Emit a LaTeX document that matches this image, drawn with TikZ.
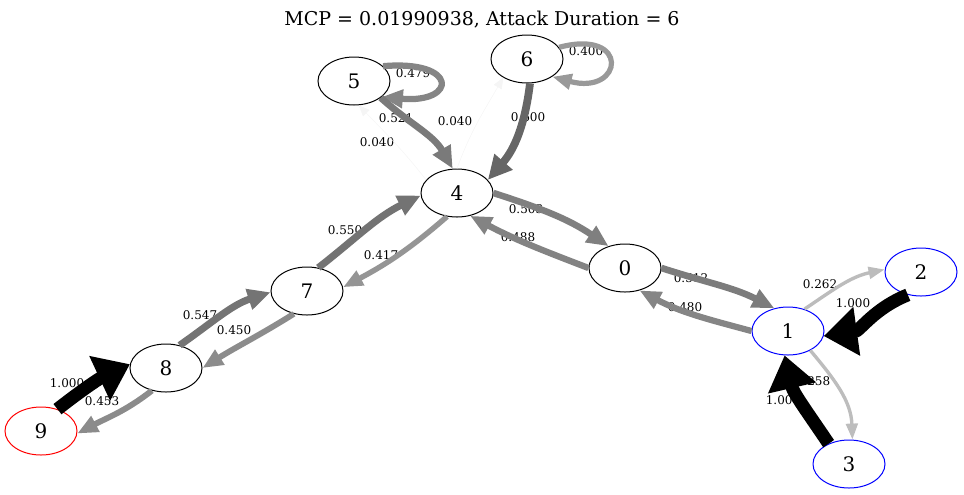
\documentclass[tikz,border=0pt]{standalone}
\usepackage{fontspec}
\setmainfont{DejaVu Serif}
\usetikzlibrary{shapes.geometric,arrows.meta}
\tikzset{
  stnode/.style={ellipse, draw, line width=0.5pt, minimum width=36pt, minimum height=24pt, inner sep=0pt, font=\fontsize{10}{12}\selectfont},
  lbl/.style={inner sep=0pt, font=\fontsize{6}{7}\selectfont},
  pe/.style={draw=black!#1, line width=#1*0.065pt,
    /utils/exec={\pgfmathsetmacro\tipw{4.5+0.0019*#1*#1}},
    -{Triangle[length=5pt 1.8, width=\tipw pt]}},
}
\begin{document}
\begin{tikzpicture}[x=0.5pt, y=-0.5pt]
    \useasboundingbox (0,0) rectangle (964,494);
    \node[font=\fontsize{9.5}{11}\selectfont] (title) at (482,20) {MCP = 0.01990938, Attack Duration = 6};
    % edge labels
    \node[lbl] (l55) at (413,73) {0.479};
    \node[lbl] (l66) at (586,51) {0.400};
    \node[lbl] (l54) at (396,118) {0.521};
    \node[lbl] (l46) at (455,121) {0.040};
    \node[lbl] (l45) at (377,142) {0.040};
    \node[lbl] (l64) at (528,117) {0.600};
    \node[lbl] (l40) at (526,209) {0.503};
    \node[lbl] (l04) at (518,237) {0.488};
    \node[lbl] (l74) at (345,230) {0.550};
    \node[lbl] (l47) at (381,255) {0.417};
    \node[lbl] (l87) at (200,315) {0.547};
    \node[lbl] (l78) at (234,330) {0.450};
    \node[lbl] (l98) at (67,383) {1.000};
    \node[lbl] (l89) at (102,401) {0.453};
    \node[lbl] (l01) at (691,278) {0.512};
    \node[lbl] (l10) at (685,307) {0.480};
    \node[lbl] (l12) at (820,284) {0.262};
    \node[lbl] (l21) at (853,303) {1.000};
    \node[lbl] (l13) at (813,381) {0.258};
    \node[lbl] (l31) at (783,400) {1.000};
    % states
    \node[stnode] (n0) at (625,268) {0};
    \node[stnode, draw=blue] (n1) at (788,331) {1};
    \node[stnode, draw=blue] (n2) at (921,272) {2};
    \node[stnode, draw=blue] (n3) at (849,464) {3};
    \node[stnode] (n4) at (457,193) {4};
    \node[stnode] (n5) at (354,81) {5};
    \node[stnode] (n6) at (527,59) {6};
    \node[stnode] (n7) at (307,291) {7};
    \node[stnode] (n8) at (166,368) {8};
    \node[stnode, draw=red] (n9) at (41,431) {9};
    % transitions
    \draw[pe=47.9] (n5.27) to[out=5,in=-5,distance=38pt] (n5.-30);
    \draw[pe=40] (n6.20) to[out=15,in=-15,distance=37pt] (n6.-35);
    \draw[pe=52.1] (n5.-32) to[out=-42,in=120] (n4.100);
    \draw[pe=60] (n6.-83) to[out=-97,in=49] (n4.23);
    \draw[pe=4] (n4.157) to[out=128,in=-46] (n5.-79);
    \draw[pe=4] (n4.90) to[out=70,in=240] (n6.218);
    \draw[pe=50.3] (n4.0) to[out=-18,in=146] (n0.127);
    \draw[pe=48.8] (n0.180) to[out=159,in=-28] (n4.-60);
    \draw[pe=55] (n7.64) to[out=38,in=206] (n4.184);
    \draw[pe=41.7] (n4.247) to[out=221,in=28] (n7.6);
    \draw[pe=54.7] (n8.59) to[out=35,in=198] (n7.182);
    \draw[pe=45] (n7.240) to[out=212,in=32] (n8.0);
    \draw[pe=100] (n9.53) to[out=38,in=205] (n8.174);
    \draw[pe=45.3] (n8.238) to[out=218,in=28] (n9.-4);
    \draw[pe=51.2] (n0.0) to[out=-18,in=153] (n1.121);
    \draw[pe=48] (n1.180) to[out=165,in=-28] (n0.-57);
    \draw[pe=26.2] (n1.53) to[out=34,in=-168] (n2.176);
    \draw[pe=100] (n2.240) to[out=202,in=8] (n1.-8);
    \draw[pe=25.8] (n1.-41) to[out=-50,in=92] (n3.82);
    \draw[pe=100] (n3.135) to[out=124,in=-77] (n1.-98);
\end{tikzpicture}
\end{document}
